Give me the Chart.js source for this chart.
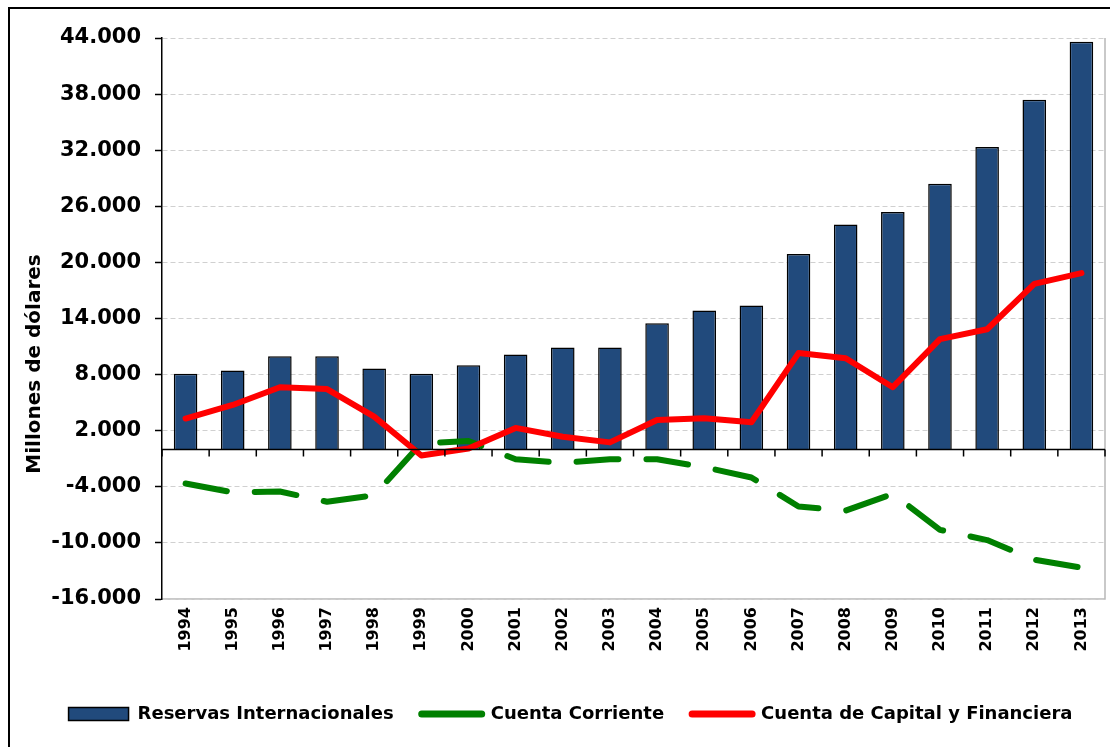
<!DOCTYPE html>
<html>
<head>
<meta charset="utf-8">
<script src="https://cdn.jsdelivr.net/npm/chart.js@4.4.1/dist/chart.umd.min.js"></script>
<style>
  html, body { margin: 0; padding: 0; background: #fff; }
  #wrap { position: relative; width: 1110px; height: 747px; overflow: hidden; }
  canvas { display: block; }
</style>
</head>
<body>
<div id="wrap"><canvas id="c" width="1110" height="747"></canvas></div>
<script>
const years = ['1994','1995','1996','1997','1998','1999','2000','2001','2002','2003','2004','2005','2006','2007','2008','2009','2010','2011','2012','2013'];
const reservas = [8100, 8450, 9950, 9950, 8650, 8100, 9000, 10150, 10900, 10900, 13500, 14850, 15400, 20900, 24050, 25400, 28400, 32350, 37400, 43600];
const cuentaCorriente = [-3650, -4600, -4500, -5600, -4900, 650, 900, -1050, -1450, -1050, -1050, -1900, -3000, -6100, -6550, -4750, -8600, -9700, -11800, -12650];
const cuentaCapital = [3300, 4750, 6650, 6450, 3500, -650, 100, 2300, 1350, 750, 3150, 3330, 2900, 10300, 9750, 6650, 11800, 12850, 17700, 18850];
const yTicks = [-16000, -10000, -4000, 2000, 8000, 14000, 20000, 26000, 32000, 38000, 44000];
const seriesNames = ['Reservas Internacionales', 'Cuenta Corriente', 'Cuenta de Capital y Financiera'];
const yTitle = 'Millones de dólares';

const FONT = "'DejaVu Sans', Verdana, sans-serif";

function fmt(v) {
  const s = String(Math.abs(v)).replace(/\B(?=(\d{3})+(?!\d))/g, '.');
  return (v < 0 ? '-' : '') + s;
}

const framePlugin = {
  id: 'frame',
  beforeDraw(chart) {
    const ctx = chart.ctx;
    ctx.save();
    ctx.strokeStyle = '#000';
    ctx.lineWidth = 2;
    ctx.beginPath();
    ctx.moveTo(9, 760);
    ctx.lineTo(9, 8);
    ctx.lineTo(1120, 8);
    ctx.stroke();
    const a = chart.chartArea;
    ctx.strokeStyle = '#b8b8b8';
    ctx.lineWidth = 1.5;
    ctx.beginPath();
    ctx.moveTo(a.left, a.bottom);
    ctx.lineTo(a.right, a.bottom);
    ctx.lineTo(a.right, a.top);
    ctx.stroke();
    ctx.restore();
  },
  afterDatasetsDraw(chart) {
    const ctx = chart.ctx;
    const xs = chart.scales.x, ys = chart.scales.y;
    const y0 = ys.getPixelForValue(0);
    ctx.save();
    ctx.strokeStyle = '#000';
    ctx.lineWidth = 1.5;
    ctx.beginPath();
    ctx.moveTo(xs.left, y0);
    ctx.lineTo(xs.right, y0);
    const half = (xs.getPixelForValue(1) - xs.getPixelForValue(0)) / 2;
    for (let i = 0; i <= years.length; i++) {
      const px = xs.getPixelForValue(0) - half + i * 2 * half;
      ctx.moveTo(px, y0);
      ctx.lineTo(px, y0 + 7);
    }
    ctx.stroke();
    ctx.restore();
  },
  afterDraw(chart) {
    const ctx = chart.ctx;
    const a = chart.chartArea;
    ctx.save();
    ctx.translate(35, a.bottom - 235);
    ctx.rotate(-Math.PI / 2);
    ctx.font = "bold 20px " + FONT;
    ctx.fillStyle = '#000';
    ctx.textAlign = 'center';
    ctx.textBaseline = 'middle';
    ctx.fillText(yTitle, 0, 0);
    ctx.restore();
  }
};

new Chart(document.getElementById('c'), {
  data: {
    labels: years,
    datasets: [
      {
        type: 'bar',
        label: seriesNames[0],
        data: reservas,
        backgroundColor: '#214a7c',
        borderColor: '#000',
        borderWidth: 1.5,
        barPercentage: 0.5,
        categoryPercentage: 1,
        order: 3
      },
      {
        type: 'line',
        label: seriesNames[1],
        data: cuentaCorriente,
        borderColor: '#008000',
        backgroundColor: '#008000',
        borderWidth: 6,
        borderDash: [42, 28],
        borderCapStyle: 'round',
        borderJoinStyle: 'round',
        pointRadius: 0,
        tension: 0,
        fill: false,
        order: 2
      },
      {
        type: 'line',
        label: seriesNames[2],
        data: cuentaCapital,
        borderColor: '#ff0000',
        backgroundColor: '#ff0000',
        borderWidth: 6,
        borderCapStyle: 'round',
        borderJoinStyle: 'round',
        pointRadius: 0,
        tension: 0,
        fill: false,
        order: 1
      }
    ]
  },
  options: {
    responsive: false,
    animation: false,
    devicePixelRatio: 1,
    layout: { padding: { top: 38, right: 5, left: 36, bottom: 14 } },
    plugins: {
      tooltip: { enabled: false },
      legend: {
        position: 'bottom',
        labels: {
          usePointStyle: true,
          pointStyleWidth: 60,
          boxHeight: 13,
          padding: 28,
          color: '#000',
          font: { family: FONT, size: 18, weight: 'bold' },
          generateLabels(chart) {
            return chart.data.datasets.map((ds, i) => ({
              text: ds.label,
              datasetIndex: i,
              fillStyle: ds.type === 'bar' ? ds.backgroundColor : ds.borderColor,
              strokeStyle: ds.type === 'bar' ? '#000' : ds.borderColor,
              lineWidth: ds.type === 'bar' ? 1.5 : 7,
              lineCap: 'round',
              lineDash: [],
              pointStyle: ds.type === 'bar' ? 'rect' : 'line',
              rotation: 0,
              hidden: false,
              fontColor: '#000'
            }));
          }
        }
      }
    },
    scales: {
      x: {
        type: 'category',
        position: 'bottom',
        grid: { display: false, drawTicks: false },
        border: { display: false },
        afterFit(scale) { scale.height = 78; },
        ticks: {
          color: '#000',
          minRotation: 90,
          maxRotation: 90,
          padding: 8,
          autoSkip: false,
          font: { family: FONT, size: 16, weight: 'bold' }
        }
      },
      y: {
        type: 'linear',
        min: -16000,
        max: 44000,
        afterFit(scale) { scale.width = 126; },
        afterBuildTicks(scale) { scale.ticks = yTicks.map(v => ({ value: v })); },
        grid: {
          color: '#d0d0d0',
          lineWidth: 1,
          tickColor: '#000',
          tickLength: 7,
          tickWidth: 1.5,
          tickBorderDash: []
        },
        border: { display: true, color: '#000', width: 1.5, dash: [5, 3] },
        title: { display: false },
        ticks: {
          color: '#000',
          padding: 14,
          font: { family: FONT, size: 21, weight: 'bold' },
          callback: (v) => fmt(v)
        }
      }
    }
  },
  plugins: [framePlugin]
});
</script>
</body>
</html>
